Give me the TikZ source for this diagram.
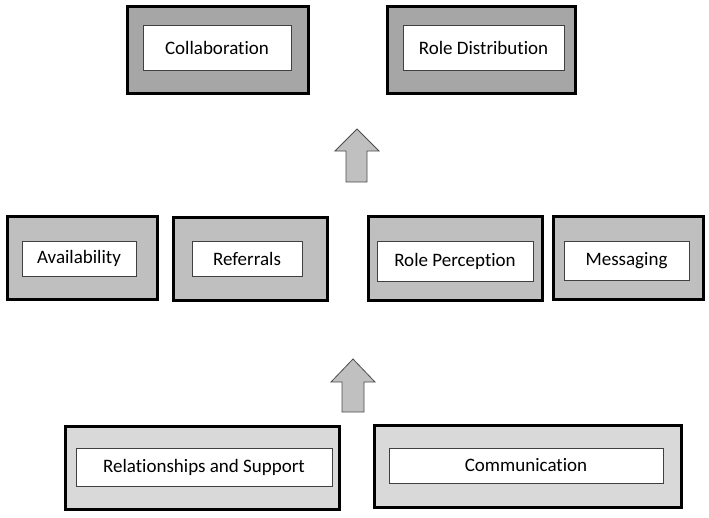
\documentclass[tikz,border=0pt]{standalone}
\usepackage{fontspec}
\setmainfont[Ligatures=NoCommon]{Carlito}
\begin{document}
\begin{tikzpicture}[x=1pt,y=-1pt,
  outerbox/.style={draw=black, line width=3pt, inner sep=0pt},
  toprow/.style={outerbox, fill=topgray},
  midrow/.style={outerbox, fill=midgray},
  botrow/.style={outerbox, fill=botgray},
  innerbox/.style={draw=black!75, line width=0.9pt, fill=white, inner sep=0pt, font=\fontsize{19}{22}\selectfont},
  blockarrow/.style={draw=black!70, line width=0.8pt, fill=arrowgray, line join=miter}
]
\definecolor{topgray}{HTML}{A6A6A6}
\definecolor{midgray}{HTML}{BFBFBF}
\definecolor{botgray}{HTML}{D9D9D9}
\definecolor{arrowgray}{HTML}{C0C0C0}
\useasboundingbox (0,0) rectangle (709,517);

% top row
\node[toprow, minimum width=181, minimum height=87] (collabO) at (217.5,49.5) {};
\node[innerbox, minimum width=148, minimum height=45] (collab) at (217,47.5) {Collaboration};
\node[toprow, minimum width=188, minimum height=87] (roledO) at (481,49.5) {};
\node[innerbox, minimum width=161, minimum height=45] (roled) at (483.5,47.5) {Role Distribution};

% middle row
\node[midrow, minimum width=150, minimum height=83] (availO) at (82,257.5) {};
\node[innerbox, minimum width=114, minimum height=35] (avail) at (79,258.5) {Availability};
\node[midrow, minimum width=154, minimum height=83] (refO) at (250,258.5) {};
\node[innerbox, minimum width=110, minimum height=35] (ref) at (247,258.5) {Referrals};
\node[midrow, minimum width=174, minimum height=84] (rolepO) at (455,258) {};
\node[innerbox, minimum width=156, minimum height=40] (rolep) at (455,261) {Role Perception};
\node[midrow, minimum width=150, minimum height=83] (msgO) at (628,257.5) {};
\node[innerbox, minimum width=125, minimum height=39] (msg) at (626.5,260.5) {Messaging};

% bottom row
\node[botrow, minimum width=274, minimum height=83] (relO) at (202,467.5) {};
\node[innerbox, minimum width=256, minimum height=38] (rel) at (204,467) {Relationships and Support};
\node[botrow, minimum width=307, minimum height=82] (commO) at (527.5,466) {};
\node[innerbox, minimum width=274, minimum height=35] (comm) at (526,465.5) {Communication};

% block arrows
\draw[blockarrow] (357,129) -- (379,151) -- (367,151) -- (367,182) -- (346,182) -- (346,151) -- (335,151) -- cycle;
\draw[blockarrow] (353,359) -- (375,382) -- (364,382) -- (364,412) -- (342,412) -- (342,382) -- (331,382) -- cycle;
\end{tikzpicture}
\end{document}
